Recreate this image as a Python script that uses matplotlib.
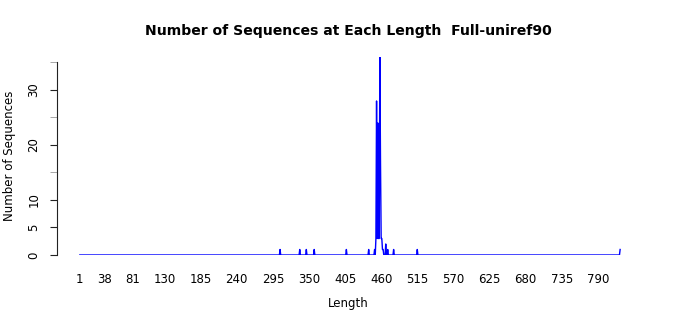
import numpy as np
import matplotlib.pyplot as plt

# lengths with at least one sequence, and how many
lengths = [306, 336, 346, 358, 407, 441, 450, 452, 453, 454, 455, 456, 457,
           458, 459, 460, 461, 462, 463, 467, 470, 479, 515, 824]
counts = [1, 1, 1, 1, 1, 1, 1, 3, 28, 3, 24, 3, 3,
          36, 17, 3, 3, 1, 1, 2, 1, 1, 1, 1]

xticks = [1, 38, 81, 130, 185, 240, 295, 350, 405, 460, 515, 570, 625, 680, 735, 790]
yticks_major = [0, 5, 10, 20, 30]
yticks_minor = [15, 25, 35]

# every length from 1 to max, zero where nothing observed
todos = np.arange(1, max(lengths) + 1)
valores = np.zeros(len(todos))
for l, c in zip(lengths, counts):
    valores[l - 1] = c

fig = plt.figure(figsize=(7, 3.15), dpi=100)
ax = fig.add_axes([0.0814, 0.1905, 0.833, 0.6286])
ax.plot(todos, valores, color='blue', linewidth=1.0)

ax.set_xlim(-33.8, 854.4)
ax.set_ylim(0, 36)

for s in ['top', 'right', 'bottom']:
    ax.spines[s].set_visible(False)
ax.spines['left'].set_bounds(0, 35)
ax.spines['left'].set_color('#222222')

ax.set_xticks(xticks)
ax.set_xticklabels([str(t) for t in xticks])
ax.tick_params(axis='x', length=0, pad=13, labelsize=8.5)

ax.set_yticks(yticks_major)
ax.set_yticklabels([str(t) for t in yticks_major], rotation=90, va='center')
ax.set_yticks(yticks_minor, minor=True)
ax.tick_params(axis='y', which='major', length=5, pad=7, labelsize=8.5, color='#222222')
ax.tick_params(axis='y', which='minor', length=5, color='#999999')

ax.set_title("Number of Sequences at Each Length  Full-uniref90", fontsize=10.1,
             fontweight='bold', pad=16)
ax.set_xlabel("Length", fontsize=8.5, labelpad=8)
ax.set_ylabel("Number of Sequences", fontsize=8.5, labelpad=8)

fig.savefig('out.png', dpi=100)
